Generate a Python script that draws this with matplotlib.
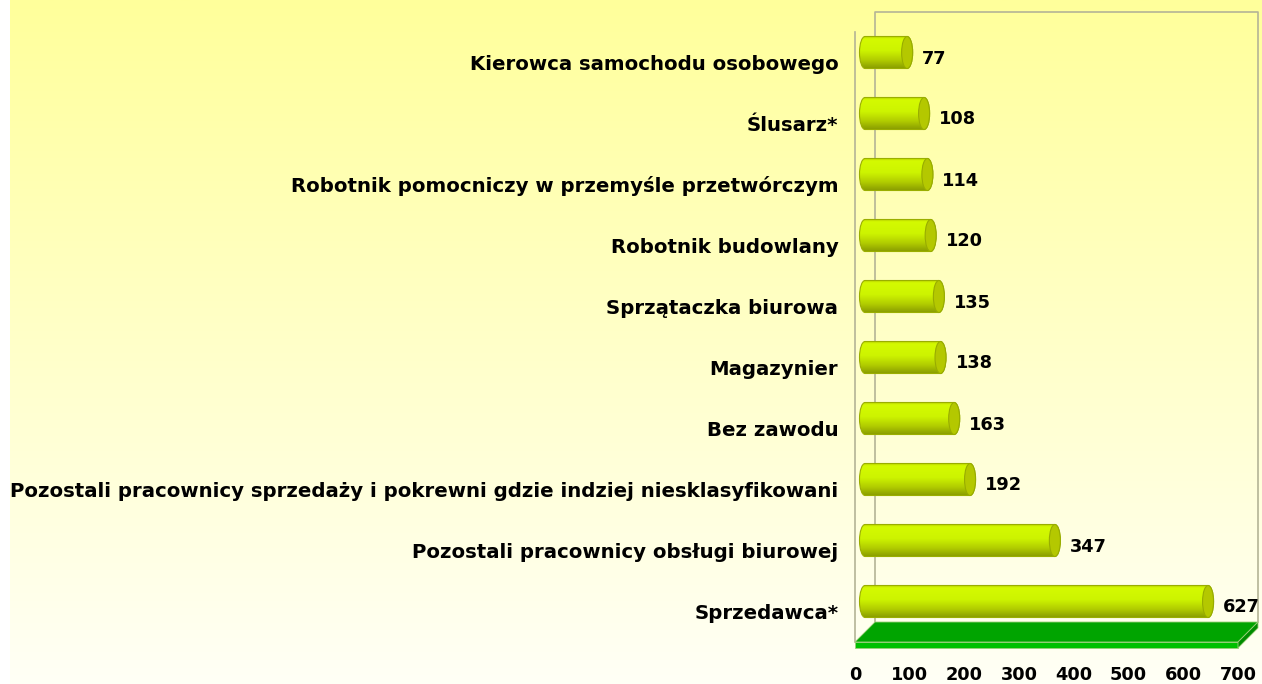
import numpy as np
import matplotlib
matplotlib.use("Agg")
import matplotlib.pyplot as plt
from matplotlib.patches import Ellipse, PathPatch, Polygon
from matplotlib.path import Path
from matplotlib.transforms import offset_copy, IdentityTransform

categories = [
    "Sprzedawca*",
    "Pozostali pracownicy obsługi biurowej",
    "Pozostali pracownicy sprzedaży i pokrewni gdzie indziej niesklasyfikowani",
    "Bez zawodu",
    "Magazynier",
    "Sprzątaczka biurowa",
    "Robotnik budowlany",
    "Robotnik pomocniczy w przemyśle przetwórczym",
    "Ślusarz*",
    "Kierowca samochodu osobowego",
]
values = [627, 347, 192, 163, 138, 135, 120, 114, 108, 77]
xticks = [0, 100, 200, 300, 400, 500, 600, 700]

W, H, DPI = 1262, 684, 100
fig = plt.figure(figsize=(W / DPI, H / DPI), dpi=DPI, facecolor="white")
plt.rcParams["font.family"] = ["DejaVu Sans"]

# background gradient
bg = fig.add_axes([10 / W, 0, 1 - 10 / W, 1], zorder=-10)
top = np.array([255, 255, 155]) / 255
bot = np.array([255, 255, 246]) / 255
t = np.linspace(0, 1, 256)[:, None]
grad = top[None, :] * (1 - t) + bot[None, :] * t
bg.imshow(grad[:, None, :], aspect="auto", extent=[0, 1, 0, 1], origin="upper")
bg.set_axis_off()

# main axes (front plane)
L, R, B, T = 855, 1238, 642, 32
ax = fig.add_axes([L / W, (H - B) / H, (R - L) / W, (B - T) / H])
ax.patch.set_alpha(0)
ax.set_xlim(0, 700)
ax.set_ylim(-0.5, len(categories) - 0.5)
for s in ax.spines.values():
    s.set_visible(False)

px_per_unit = (R - L) / 700.0
px_per_cat = (B - T) / len(categories)
depth = 20  # px
mid = offset_copy(ax.transData, fig=fig, x=depth / 2, y=depth / 2, units="dots")
back = offset_copy(ax.transData, fig=fig, x=depth, y=depth, units="dots")

wall_col = "#b4b496"
ax.plot([0, 0, 700, 700], [-0.5, len(categories) - 0.5, len(categories) - 0.5, -0.5],
        color=wall_col, lw=1.2, transform=back, clip_on=False, zorder=1)
ax.plot([0, 0], [-0.5, len(categories) - 0.5], color=wall_col, lw=1.2,
        clip_on=False, zorder=1)

# floor (computed from axes transforms)
fx0, fy0 = ax.transData.transform((0, -0.5))
fx1, _ = ax.transData.transform((700, -0.5))
th = 6
top_face = [(fx0, fy0), (fx1, fy0), (fx1 + depth, fy0 + depth), (fx0 + depth, fy0 + depth)]
front_face = [(fx0, fy0), (fx1, fy0), (fx1, fy0 - th), (fx0, fy0 - th)]
side_face = [(fx1, fy0), (fx1 + depth, fy0 + depth), (fx1 + depth, fy0 + depth - th), (fx1, fy0 - th)]
for pts, col in [(top_face, "#00a400"), (front_face, "#00c000"), (side_face, "#008c00")]:
    fig.patches.append(Polygon(pts, closed=True, facecolor=col, edgecolor="#9ccf7a",
                               lw=0.6, transform=IdentityTransform(), zorder=2))

# cylinders
h = 32 / px_per_cat
a = 5.5 / px_per_unit
stops = [0.0, 0.08, 0.45, 0.75, 1.0]
cols = np.array([[185, 210, 0], [212, 250, 0], [205, 244, 0], [178, 205, 0], [140, 160, 0]]) / 255
tt = np.linspace(0, 1, 64)
body_grad = np.stack([np.interp(tt, stops, cols[:, k]) for k in range(3)], axis=1)[:, None, :]

k = 0.5523
for i, v in enumerate(values):
    y0, y1 = i - h / 2, i + h / 2
    verts = [
        (0, y0), (v, y0),
        (v + a * k, y0), (v + a, i - h / 2 * k), (v + a, i),
        (v + a, i + h / 2 * k), (v + a * k, y1), (v, y1),
        (0, y1),
        (-a * k, y1), (-a, i + h / 2 * k), (-a, i),
        (-a, i - h / 2 * k), (-a * k, y0), (0, y0),
    ]
    codes = [Path.MOVETO, Path.LINETO,
             Path.CURVE4, Path.CURVE4, Path.CURVE4,
             Path.CURVE4, Path.CURVE4, Path.CURVE4,
             Path.LINETO,
             Path.CURVE4, Path.CURVE4, Path.CURVE4,
             Path.CURVE4, Path.CURVE4, Path.CURVE4]
    path = Path(verts, codes)
    clip = PathPatch(path, transform=mid, facecolor="none", edgecolor="none")
    ax.add_patch(clip)
    im = ax.imshow(body_grad, extent=[-a, v + a, y0, y1], transform=mid, aspect="auto",
                   origin="upper", interpolation="bilinear", zorder=3)
    im.set_clip_path(clip)
    ax.add_patch(PathPatch(path, transform=mid, facecolor="none", edgecolor="#9aae00",
                           lw=0.8, zorder=4))
    ax.add_patch(Ellipse((v, i), 2 * a, h, transform=mid, facecolor="#b4c800",
                         edgecolor="#98ac00", lw=0.8, zorder=5))
    lbl = offset_copy(ax.transData, fig=fig, x=depth / 2 + 15, y=depth / 2 - 6, units="dots")
    ax.text(v, i, f"{v}", transform=lbl, ha="left", va="center", fontsize=12.8,
            fontweight="bold", color="black", zorder=6)

ax.set_xlim(0, 700)
ax.set_ylim(-0.5, len(categories) - 0.5)
ax.set_yticks(range(len(categories)))
ax.set_yticklabels(categories, fontsize=14.2, fontweight="bold")
ax.set_xticks(xticks)
ax.set_xticklabels([str(x) for x in xticks], fontsize=12.8, fontweight="bold")
ax.tick_params(axis="y", length=0, pad=12)
ax.tick_params(axis="x", length=0, pad=17)

fig.savefig("out.png", dpi=DPI, facecolor="white")
